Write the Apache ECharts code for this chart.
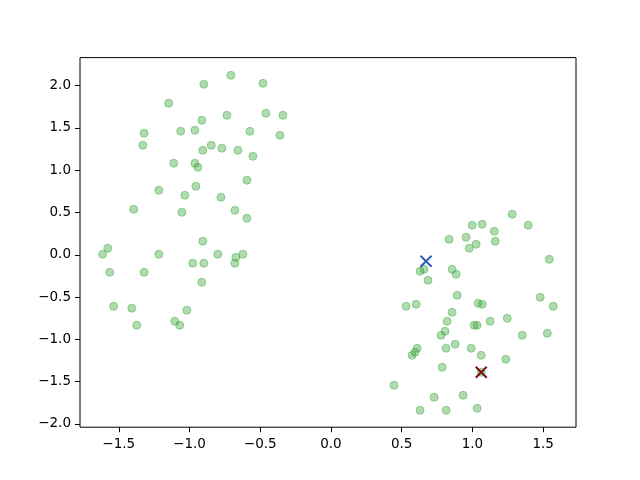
<!DOCTYPE html>
<html>
<head>
<meta charset="utf-8">
<script src="https://cdn.jsdelivr.net/npm/echarts@6/dist/echarts.min.js"></script>
<style>html,body{margin:0;padding:0;background:#fff}#chart{width:640px;height:480px}</style>
</head>
<body>
<div id="chart"></div>
<script>
// Data points (x, y)
const leftX = [-0.708,-0.899,-0.481,-1.147,-0.913,-0.736,-0.460,-0.340,-1.321,-1.062,-0.962,-0.573,-0.361,-1.330,-0.846,-0.906,-0.771,-0.658,-0.552,-1.111,-0.962,-0.941,-0.594,-1.217,-0.955,-1.033,-0.778,-1.394,-1.054,-0.679,-0.594,-0.906,-1.578,-1.614,-1.217,-0.800,-0.672,-0.623,-0.977,-0.899,-0.679,-1.564,-1.321,-0.913,-1.536,-1.408,-1.019,-1.373,-1.104,-1.069];
const leftY = [2.122,2.015,2.027,1.791,1.590,1.649,1.673,1.649,1.436,1.460,1.472,1.460,1.413,1.294,1.294,1.235,1.259,1.235,1.164,1.082,1.082,1.034,0.881,0.762,0.810,0.703,0.680,0.538,0.502,0.526,0.431,0.160,0.077,0.006,0.006,0.006,-0.030,0.006,-0.100,-0.100,-0.100,-0.207,-0.207,-0.325,-0.609,-0.632,-0.656,-0.833,-0.786,-0.833];
const rightX = [1.281,0.998,1.069,1.394,1.154,0.835,0.955,1.026,1.161,0.977,1.543,0.658,0.630,0.856,0.885,0.686,0.892,1.479,0.531,0.602,1.040,1.069,1.571,0.856,1.246,0.821,1.125,1.012,1.033,0.807,0.778,1.352,1.529,0.609,0.594,0.573,0.814,0.878,0.991,1.062,1.236,0.786,1.062,0.446,0.729,0.934,0.630,0.814,1.033];
const rightY = [0.479,0.349,0.361,0.349,0.278,0.183,0.207,0.124,0.160,0.077,-0.053,-0.171,-0.195,-0.171,-0.230,-0.301,-0.479,-0.502,-0.609,-0.585,-0.573,-0.585,-0.609,-0.680,-0.751,-0.786,-0.786,-0.833,-0.833,-0.904,-0.952,-0.952,-0.928,-1.105,-1.152,-1.188,-1.105,-1.058,-1.105,-1.188,-1.235,-1.330,-1.389,-1.543,-1.684,-1.661,-1.838,-1.838,-1.814];
const blueMark = [0.672, -0.077];
const redMark = [1.062, -1.389];
const xTicks = [-1.5,-1.0,-0.5,0.0,0.5,1.0,1.5];
const yTicks = [-2.0,-1.5,-1.0,-0.5,0.0,0.5,1.0,1.5,2.0];

const pts = [];
leftX.forEach((x,i)=>pts.push([x,leftY[i]]));
rightX.forEach((x,i)=>pts.push([x,rightY[i]]));

const fmt = v => v.toFixed(1).replace('-', '\u2212');
const xPath = 'path://M0,0L10,10M10,0L0,10';

const chart = echarts.init(document.getElementById('chart'), null, {renderer:'canvas'});
chart.setOption({
  animation: false,
  grid: {left:80, right:64, top:57.6, bottom:52.8, show:true, borderColor:'#000', borderWidth:1, backgroundColor:'transparent'},
  xAxis: {
    type:'value', min:-1.774, max:1.732, scale:true,
    splitLine:{show:false}, axisLine:{show:false, onZero:false},
    axisTick:{show:true, length:5, inside:false, lineStyle:{color:'#000'}, customValues:xTicks},
    axisLabel:{color:'#000', fontFamily:'DejaVu Sans', fontSize:13.5, margin:10, customValues:xTicks, formatter:fmt}
  },
  yAxis: {
    type:'value', min:-2.038, max:2.331, scale:true,
    splitLine:{show:false}, axisLine:{show:false, onZero:false},
    axisTick:{show:true, length:5, inside:false, lineStyle:{color:'#000'}, customValues:yTicks},
    axisLabel:{color:'#000', fontFamily:'DejaVu Sans', fontSize:13.5, margin:9, customValues:yTicks, formatter:fmt}
  },
  series: [
    {type:'scatter', data:pts, symbol:'circle', symbolSize:8,
     itemStyle:{color:'rgba(44,160,44,0.38)', borderColor:'rgba(44,160,44,0.4)', borderWidth:1, opacity:1}},
    {type:'scatter', data:[blueMark], symbol:xPath, symbolSize:11,
     itemStyle:{color:'none', borderColor:'#2a5fbf', borderWidth:2, opacity:1}},
    {type:'scatter', data:[redMark], symbol:xPath, symbolSize:11,
     itemStyle:{color:'none', borderColor:'#7a0f0f', borderWidth:2, opacity:1}}
  ]
});
</script>
</body>
</html>
